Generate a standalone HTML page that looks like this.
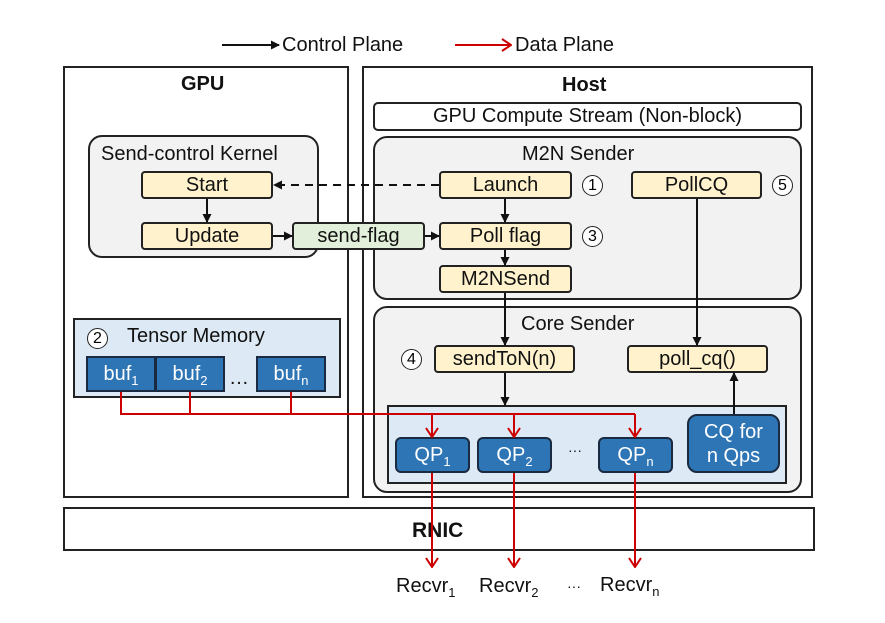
<!DOCTYPE html>
<html><head><meta charset="utf-8"><style>
body{margin:0;width:885px;height:623px;background:#fff;position:relative;font-family:"Liberation Sans",Arial,sans-serif;overflow:hidden}
.b{position:absolute;box-sizing:border-box;border:2px solid #222;display:flex;align-items:center;justify-content:center;font-size:20px;color:#111}
.y{background:#fff2cc;border-radius:4px}
.q{background:#2e75b6;color:#fff;border-radius:6px;border-color:#1a2a40}
.t{position:absolute;font-size:20px;color:#111;white-space:nowrap}
.c{position:absolute;width:21px;height:21px;border:1.5px solid #222;border-radius:50%;box-sizing:border-box;font-size:16px;display:flex;align-items:center;justify-content:center;background:#fff}
sub{font-size:13px;vertical-align:-5px;line-height:0}
</style></head><body>
<div class="b" style="left:63px;top:66px;width:286px;height:432px"></div>
<div class="b" style="left:362px;top:66px;width:451px;height:432px"></div>
<div class="t" style="left:181px;top:73px;font-weight:bold">GPU</div>
<div class="t" style="left:562px;top:74px;font-weight:bold">Host</div>
<div class="b" style="left:373px;top:102px;width:429px;height:29px;border-radius:5px"><span>GPU Compute Stream (Non-block)</span></div>
<div class="b" style="left:373px;top:136px;width:429px;height:164px;border-radius:14px;background:#f2f2f2"></div>
<div class="t" style="left:522px;top:143px">M2N Sender</div>
<div class="b" style="left:373px;top:306px;width:429px;height:187px;border-radius:14px;background:#f2f2f2"></div>
<div class="t" style="left:521px;top:313px">Core Sender</div>
<div class="b" style="left:88px;top:135px;width:231px;height:123px;border-radius:14px;background:#f2f2f2"></div>
<div class="t" style="left:101px;top:143px">Send-control Kernel</div>
<div class="b y" style="left:141px;top:171px;width:132px;height:28px"><span>Start</span></div>
<div class="b y" style="left:141px;top:222px;width:132px;height:28px"><span>Update</span></div>
<div class="b" style="left:292px;top:222px;width:133px;height:28px;background:#e2efda;border-radius:4px"><span>send-flag</span></div>
<div class="b y" style="left:439px;top:171px;width:133px;height:28px"><span>Launch</span></div>
<div class="b y" style="left:439px;top:222px;width:133px;height:28px"><span>Poll flag</span></div>
<div class="b y" style="left:439px;top:265px;width:133px;height:28px"><span>M2NSend</span></div>
<div class="b y" style="left:631px;top:171px;width:131px;height:28px"><span>PollCQ</span></div>
<div class="c" style="left:582px;top:175px">1</div>
<div class="c" style="left:582px;top:226px">3</div>
<div class="c" style="left:772px;top:175px">5</div>
<div class="c" style="left:401px;top:349px">4</div>
<div class="b y" style="left:434px;top:345px;width:141px;height:28px"><span>sendToN(n)</span></div>
<div class="b y" style="left:627px;top:345px;width:141px;height:28px"><span>poll_cq()</span></div>
<div class="b" style="left:387px;top:405px;width:400px;height:79px;background:#dde9f5;border-radius:0"></div>
<div class="b q" style="left:395px;top:437px;width:75px;height:36px"><span>QP<sub>1</sub></span></div>
<div class="b q" style="left:477px;top:437px;width:75px;height:36px"><span>QP<sub>2</sub></span></div>
<div class="t" style="left:568px;top:442px;font-size:14px">···</div>
<div class="b q" style="left:598px;top:437px;width:75px;height:36px"><span>QP<sub>n</sub></span></div>
<div class="b q" style="left:687px;top:414px;width:93px;height:59px;border-radius:10px"><span style="line-height:24px;text-align:center">CQ for<br>n Qps</span></div>
<div class="b" style="left:73px;top:318px;width:268px;height:80px;background:#dde9f5;border-radius:0"></div>
<div class="c" style="left:87px;top:328px">2</div>
<div class="t" style="left:127px;top:325px">Tensor Memory</div>
<div class="b" style="left:86px;top:356px;width:70px;height:36px;background:#2e75b6;color:#fff;border-color:#1a2a40"><span>buf<sub>1</sub></span></div>
<div class="b" style="left:155px;top:356px;width:70px;height:36px;background:#2e75b6;color:#fff;border-color:#1a2a40"><span>buf<sub>2</sub></span></div>
<div class="t" style="left:229px;top:367px">…</div>
<div class="b" style="left:256px;top:356px;width:70px;height:36px;background:#2e75b6;color:#fff;border-color:#1a2a40"><span>buf<sub>n</sub></span></div>
<div class="b" style="left:63px;top:507px;width:752px;height:44px"></div>
<div class="t" style="left:412px;top:519px;font-weight:bold;font-size:21px">RNIC</div>
<div class="t" style="left:396px;top:575px">Recvr<sub>1</sub></div>
<div class="t" style="left:479px;top:575px">Recvr<sub>2</sub></div>
<div class="t" style="left:567px;top:578px;font-size:14px">···</div>
<div class="t" style="left:600px;top:574px">Recvr<sub>n</sub></div>
<div class="t" style="left:282px;top:34px">Control Plane</div>
<div class="t" style="left:515px;top:34px">Data Plane</div>
<svg width="885" height="623" style="position:absolute;left:0;top:0">
<defs>
<marker id="k" markerWidth="9" markerHeight="9" refX="8" refY="4.5" orient="auto" markerUnits="userSpaceOnUse"><path d="M0,0L9,4.5L0,9z" fill="#111"/></marker>
<marker id="rv" markerWidth="14" markerHeight="11" refX="7" refY="10" markerUnits="userSpaceOnUse" orient="0"><path d="M1,1L7,10L13,1" fill="none" stroke="#c00" stroke-width="2"/></marker>
<marker id="rh" markerWidth="11" markerHeight="14" refX="10" refY="7" markerUnits="userSpaceOnUse" orient="0"><path d="M1,1L10,7L1,13" fill="none" stroke="#c00" stroke-width="2"/></marker>
</defs>
<g stroke="#111" stroke-width="2" fill="none">
<line x1="222" y1="45" x2="279" y2="45" marker-end="url(#k)"/>
<line x1="439" y1="185" x2="274" y2="185" stroke-dasharray="8,6" marker-end="url(#k)"/>
<line x1="207" y1="199" x2="207" y2="222" marker-end="url(#k)"/>
<line x1="273" y1="236" x2="292" y2="236" marker-end="url(#k)"/>
<line x1="425" y1="236" x2="439" y2="236" marker-end="url(#k)"/>
<line x1="505" y1="199" x2="505" y2="222" marker-end="url(#k)"/>
<line x1="505" y1="250" x2="505" y2="265" marker-end="url(#k)"/>
<line x1="505" y1="293" x2="505" y2="345" marker-end="url(#k)"/>
<line x1="697" y1="199" x2="697" y2="345" marker-end="url(#k)"/>
<line x1="505" y1="373" x2="505" y2="405" marker-end="url(#k)"/>
<line x1="734" y1="414" x2="734" y2="373" marker-end="url(#k)"/>
</g>
<g stroke="#c00" stroke-width="2" fill="none">
<line x1="455" y1="45" x2="511" y2="45" marker-end="url(#rh)"/>
<polyline points="121,392 121,414 635,414"/>
<line x1="190" y1="392" x2="190" y2="414"/>
<line x1="291" y1="392" x2="291" y2="414"/>
<line x1="432" y1="414" x2="432" y2="437" marker-end="url(#rv)"/>
<line x1="514" y1="414" x2="514" y2="437" marker-end="url(#rv)"/>
<line x1="635" y1="414" x2="635" y2="437" marker-end="url(#rv)"/>
<line x1="432" y1="473" x2="432" y2="567" marker-end="url(#rv)"/>
<line x1="514" y1="473" x2="514" y2="567" marker-end="url(#rv)"/>
<line x1="635" y1="473" x2="635" y2="567" marker-end="url(#rv)"/>
</g>
</svg>
</body></html>
